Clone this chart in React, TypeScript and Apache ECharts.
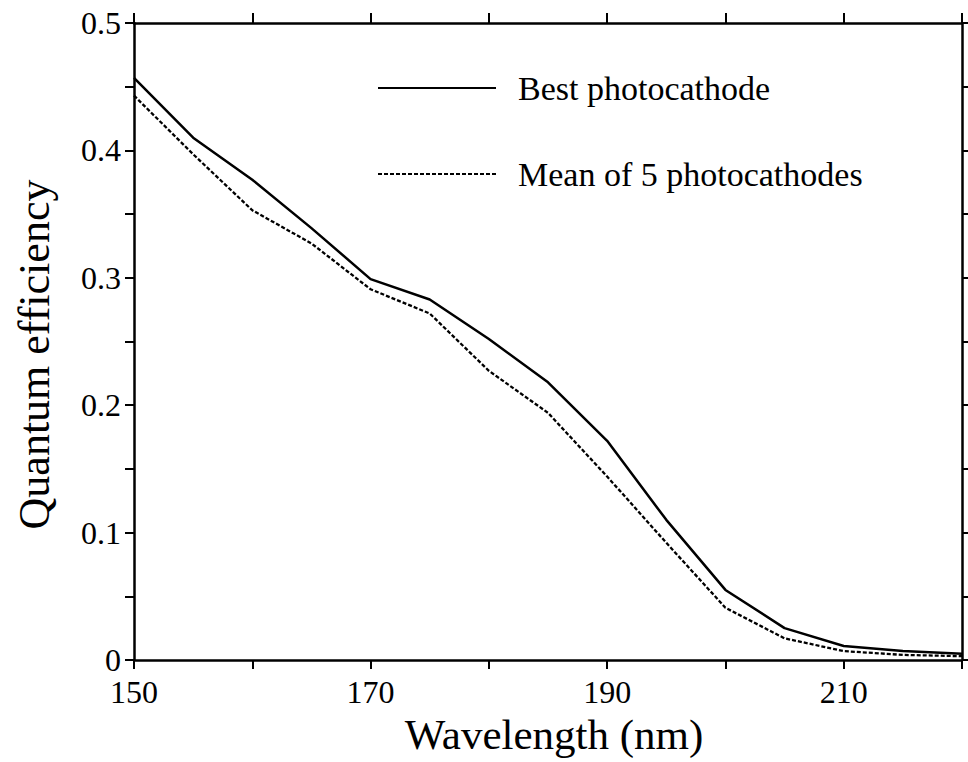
import React, { useEffect, useRef } from "react";
import * as echarts from "echarts";

const wavelengths = [150, 155, 160, 165, 170, 175, 180, 185, 190, 195, 200, 205, 210, 215, 220];
const bestQE = [0.457, 0.41, 0.377, 0.339, 0.299, 0.283, 0.252, 0.218, 0.172, 0.11, 0.055, 0.025, 0.011, 0.007, 0.005];
const meanQE = [0.443, 0.397, 0.353, 0.327, 0.291, 0.272, 0.227, 0.194, 0.144, 0.092, 0.041, 0.017, 0.007, 0.004, 0.003];
const seriesNames = ["Best photocathode", "Mean of 5 photocathodes"];
const xLabelTicks = [150, 170, 190, 210];
const yLabelTicks = [0, 0.1, 0.2, 0.3, 0.4, 0.5];

const FONT = "Liberation Serif";

export default function App() {
  const ref = useRef<HTMLDivElement>(null);
  useEffect(() => {
    if (!ref.current) return;
    const chart = echarts.init(ref.current, undefined, { renderer: "svg" });
    const axisLine = { show: true, onZero: false, lineStyle: { color: "#000", width: 2.5 } };
    const axisTick = { show: true, inside: false, length: 9, lineStyle: { color: "#000", width: 2 } };
    const xFmt = (v: number) => (xLabelTicks.some((t) => Math.abs(t - v) < 1e-6) ? String(v) : "");
    const yFmt = (v: number) => {
      const hit = yLabelTicks.find((t) => Math.abs(t - v) < 1e-6);
      if (hit === undefined) return "";
      return hit === 0 ? "0" : hit.toFixed(1);
    };
    chart.setOption({
      animation: false,
      backgroundColor: "#fff",
      grid: { left: 134, right: 6, top: 23, bottom: 102 },
      legend: {
        orient: "vertical",
        left: 372,
        top: 66,
        itemWidth: 118,
        itemHeight: 14,
        itemGap: 52,
        data: seriesNames,
        itemStyle: { opacity: 0 },
        textStyle: { fontFamily: FONT, fontSize: 34, color: "#000", lineHeight: 34, padding: [0, 0, 0, 17] },
      },
      xAxis: [
        {
          type: "value",
          position: "bottom",
          min: 150,
          max: 220,
          interval: 10,
          axisLine,
          axisTick,
          splitLine: { show: false },
          axisLabel: { formatter: xFmt, fontFamily: FONT, fontSize: 32, color: "#000", margin: 16 },
          name: "Wavelength (nm)",
          nameLocation: "middle",
          nameGap: 47,
          nameTextStyle: { fontFamily: FONT, fontSize: 43, color: "#000", padding: [0, 0, 0, 12] },
        },
        {
          type: "value",
          position: "top",
          min: 150,
          max: 220,
          interval: 10,
          axisLine,
          axisTick: { show: true, inside: false, length: 10, lineStyle: { color: "#000", width: 2 } },
          splitLine: { show: false },
          axisLabel: { show: false },
        },
      ],
      yAxis: [
        {
          type: "value",
          position: "left",
          min: 0,
          max: 0.5,
          interval: 0.05,
          axisLine,
          axisTick,
          splitLine: { show: false },
          axisLabel: { formatter: yFmt, fontFamily: FONT, fontSize: 32, color: "#000", margin: 13 },
          name: "Quantum efficiency",
          nameLocation: "middle",
          nameGap: 78,
          nameRotate: 90,
          nameTextStyle: { fontFamily: FONT, fontSize: 44, color: "#000", padding: [0, 26, 0, 0] },
        },
        {
          type: "value",
          position: "right",
          min: 0,
          max: 0.5,
          interval: 0.05,
          axisLine,
          axisTick,
          splitLine: { show: false },
          axisLabel: { show: false },
        },
      ],
      series: [
        {
          name: seriesNames[0],
          type: "line",
          xAxisIndex: 0,
          yAxisIndex: 0,
          symbol: "none",
          lineStyle: { color: "#000", width: 2.5, type: "solid" },
          itemStyle: { color: "#000" },
          data: wavelengths.map((w, i) => [w, bestQE[i]]),
        },
        {
          name: seriesNames[1],
          type: "line",
          xAxisIndex: 0,
          yAxisIndex: 0,
          symbol: "none",
          lineStyle: { color: "#000", width: 2.3, type: [4, 2] },
          itemStyle: { color: "#000" },
          data: wavelengths.map((w, i) => [w, meanQE[i]]),
        },
      ],
    });
    return () => chart.dispose();
  }, []);
  return (
    <div
      ref={ref}
      style={{ position: "fixed", left: 0, top: 0, width: 968, height: 762, background: "#fff" }}
    />
  );
}
